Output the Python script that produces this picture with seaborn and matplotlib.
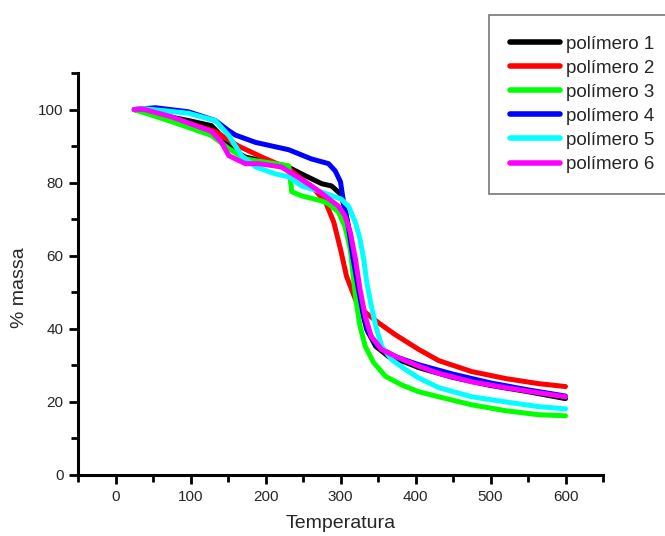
import numpy as np
import pandas as pd
import matplotlib
matplotlib.use("Agg")
import matplotlib.pyplot as plt
from matplotlib.ticker import MultipleLocator
import seaborn as sns

# ---- data ----
t1 = [25, 60, 97, 128, 140, 151, 162, 173, 195, 227, 248, 275, 288, 300, 306, 313, 320, 326, 335, 347, 364, 387, 404, 450, 500, 550, 600]
m1 = [100, 98.5, 97, 95.6, 93, 90, 88.3, 87, 86, 84.6, 82.4, 79.7, 79.1, 76.9, 72.8, 65.4, 56.3, 47.3, 39.8, 35.2, 32.4, 30.8, 29.4, 26.7, 24.5, 22.8, 20.9]

t2 = [25, 75, 133, 164, 195, 231, 253, 261, 280, 291, 300, 308, 320, 333, 351, 373, 404, 431, 475, 520, 564, 600]
m2 = [100, 97.5, 94, 90, 87, 83.8, 80.2, 79.1, 74.7, 69.2, 61.8, 54.4, 48, 44.5, 41.6, 38.4, 34.4, 31.3, 28.3, 26.4, 25, 24.2]

t3 = [25, 75, 128, 151, 173, 187, 231, 235, 248, 275, 284, 297, 306, 313, 317, 321, 326, 333, 344, 360, 381, 404, 431, 475, 520, 564, 600]
m3 = [100, 96.7, 92.9, 89.3, 86.5, 86, 84.6, 77.5, 76.4, 75.0, 74.2, 72, 68, 61.8, 54.4, 47.3, 40.7, 35.2, 30.8, 27, 24.7, 22.8, 21.4, 19.2, 17.6, 16.5, 16.2]

t4 = [25, 53, 97, 133, 151, 160, 187, 231, 261, 284, 293, 300, 304, 311, 317, 324, 331, 337, 351, 373, 404, 450, 500, 550, 600]
m4 = [100, 100.5, 99.4, 97, 94.2, 93, 91, 89, 86.5, 85.2, 83.2, 80.2, 74.7, 67.3, 59, 50.8, 43.4, 39, 34.9, 32.4, 30.2, 27.6, 25.2, 23.3, 21.6]

t5 = [25, 35, 97, 133, 151, 168, 187, 213, 231, 248, 271, 301, 311, 320, 326, 331, 335, 340, 347, 355, 368, 387, 404, 431, 475, 520, 564, 600]
m5 = [100, 100.3, 99, 97, 92.9, 87.4, 84.3, 82.4, 81.6, 79.1, 77.7, 75.5, 73.4, 69, 64.6, 59, 52.7, 47.3, 40.7, 35.2, 31.6, 28.8, 26.6, 23.9, 21.4, 20, 18.7, 18.1]

t6 = [25, 35, 75, 128, 141, 151, 173, 191, 221, 240, 267, 297, 306, 313, 320, 326, 333, 341, 355, 377, 404, 431, 475, 520, 564, 600]
m6 = [100, 100.2, 98, 94, 91.2, 87.4, 85.2, 85.2, 84.3, 81.9, 78.3, 73.6, 70.9, 66.5, 59, 50.8, 43.4, 37.9, 34.3, 32.1, 29.8, 27.8, 25.5, 23.9, 22.5, 21.4]

series_names = ["polímero 1", "polímero 2", "polímero 3", "polímero 4", "polímero 5", "polímero 6"]
colors = ["#000000", "#FF0000", "#00FF00", "#0000FF", "#00FFFF", "#FF00FF"]
x_ticks = [0, 100, 200, 300, 400, 500, 600]
y_ticks = [0, 20, 40, 60, 80, 100]

temps = [t1, t2, t3, t4, t5, t6]
masses = [m1, m2, m3, m4, m5, m6]
frames = []
for name, t, m in zip(series_names, temps, masses):
    frames.append(pd.DataFrame({"Temperatura": t, "massa": m, "serie": name}))
df = pd.concat(frames, ignore_index=True)

sns.set_style("ticks")
plt.rcParams["font.family"] = ["Liberation Sans", "DejaVu Sans"]

fig = plt.figure(figsize=(6.65, 5.36), dpi=100)
ax = fig.add_axes([78 / 665, 1 - 475 / 536, (603 - 78) / 665, (475 - 73) / 536])

sns.lineplot(data=df, x="Temperatura", y="massa", hue="serie",
             hue_order=series_names, palette=colors, sort=False,
             estimator=None, linewidth=3.6, ax=ax, legend=True,
             solid_joinstyle="round", solid_capstyle="round")

ax.set_xlim(-50, 650)
ax.set_ylim(0, 110)
ax.set_xticks(x_ticks)
ax.set_yticks(y_ticks)
ax.xaxis.set_minor_locator(MultipleLocator(50))
ax.yaxis.set_minor_locator(MultipleLocator(10))
ax.tick_params(which="major", direction="out", length=6.5, width=2, labelsize=11, color="black", pad=4)
ax.tick_params(which="minor", direction="out", length=5, width=2, color="black")
for s in ["left", "bottom"]:
    ax.spines[s].set_linewidth(2.2)
    ax.spines[s].set_color("black")
for s in ["top", "right"]:
    ax.spines[s].set_visible(False)

ax.set_xlabel("Temperatura", fontsize=14)
ax.set_ylabel("% massa", fontsize=14)
ax.xaxis.set_label_coords(0.5, -(523 - 475) / 402, transform=ax.transAxes)
ax.yaxis.set_label_coords(-(78 - 19) / 525, (475 - 288) / 402, transform=ax.transAxes)
ax.xaxis.label.set_va("center")
ax.yaxis.label.set_va("center")

leg = ax.legend(loc="upper left", bbox_to_anchor=(489 / 665, 1 - 15 / 536),
                bbox_transform=fig.transFigure, fontsize=13.5, frameon=True,
                fancybox=False, handlelength=2.7, handletextpad=0.3,
                labelspacing=0.37, borderpad=1.1, borderaxespad=0)
frame = leg.get_frame()
frame.set_edgecolor("#555555")
frame.set_linewidth(1.2)
for line in leg.get_lines():
    line.set_linewidth(4)

fig.savefig("out.png", dpi=100)
